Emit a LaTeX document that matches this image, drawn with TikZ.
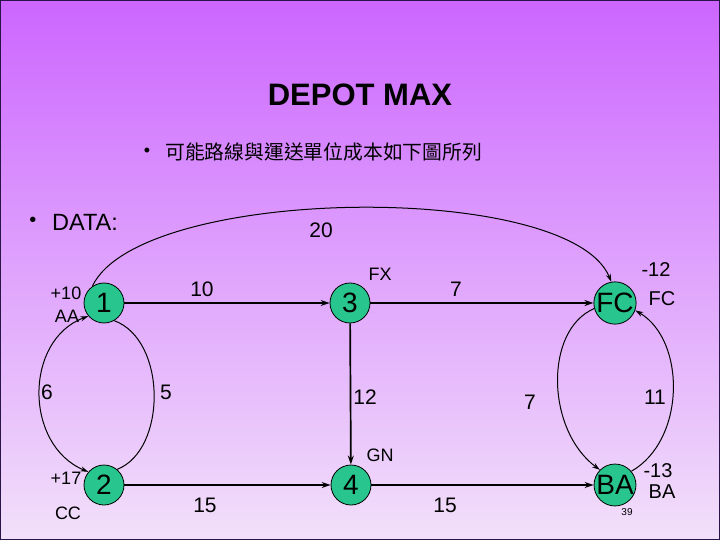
\documentclass[tikz,border=0pt]{standalone}
\usepackage{fontspec}
\setmainfont{Liberation Sans}
\newfontfamily\cjk{Noto Sans CJK TC}
\usetikzlibrary{arrows.meta}
\definecolor{bgtop}{RGB}{204,102,255}
\definecolor{bgmid}{RGB}{222,160,250}
\definecolor{bgbot}{RGB}{242,224,250}
\definecolor{nodegreen}{RGB}{40,198,142}
\definecolor{frame}{RGB}{40,20,70}
\begin{document}
\begin{tikzpicture}[x=1pt,y=-1pt,
  vert/.style={circle,draw=black,line width=0.8pt,fill=nodegreen,minimum size=40pt,inner sep=0pt,font=\fontsize{28}{28}\selectfont},
  vertw/.style={vert,font=\fontsize{28}{28}\selectfont},
  lbl/.style={font=\fontsize{21}{21}\selectfont,inner sep=0pt},
  sm/.style={font=\fontsize{18}{18}\selectfont,inner sep=0pt},
  md/.style={font=\fontsize{20}{20}\selectfont,inner sep=0pt},
  arr/.style={line width=1.7pt,-{Stealth[length=9pt,width=6pt]}},
  crv/.style={line width=1pt},
  crvtip/.style={crv,-{Stealth[length=8pt,width=5pt]}}]
% background
\shade[top color=bgtop,middle color=bgmid,bottom color=bgbot] (0,0) rectangle (720,540);
\useasboundingbox (0,0) rectangle (720,540);
\draw[frame,line width=1pt] (0.5,0.5) rectangle (719.5,539.5);
% titles
\node[font=\bfseries\fontsize{31}{31}\selectfont] (title) at (360,95) {DEPOT MAX};
\node[font=\fontsize{18}{18}\selectfont] (b1) at (147,152) {•};
\node[anchor=west,inner sep=0pt,font=\cjk\fontsize{19.8}{19.8}\selectfont] (sub) at (165,152) {可能路線與運送單位成本如下圖所列};
\node[font=\fontsize{20}{20}\selectfont] (b2) at (33,222) {•};
\node[anchor=west,inner sep=0pt,font=\fontsize{23.5}{23.5}\selectfont] (data) at (52,222) {DATA:};
% nodes
\node[vert] (n1) at (104,303) {1};
\node[vert] (n3) at (350,303) {3};
\node[vertw] (fc) at (615,303) {FC};
\node[vert] (n2) at (104,485) {2};
\node[vert] (n4) at (351,485) {4};
\node[vertw] (ba) at (615,485) {BA};
% straight arrows
\draw[arr] (n1) -- (n3);
\draw[arr] (n3) -- (fc);
\draw[arr] (n3) -- (n4);
\draw[arr] (n2) -- (n4);
\draw[arr] (n4) -- (ba);
% curves
\draw[crvtip] (n1.125) .. controls (140,185) and (570,180) .. (fc.100);
\draw[crv,{Stealth[length=8pt,width=5pt]}-{Stealth[length=8pt,width=5pt]}] (n2.140) .. controls (24,445) and (24,340) .. (n1.220);
\draw[crv] (n1.300) .. controls (167,340) and (167,450) .. (n2.50);
\draw[crvtip] (fc.195) .. controls (544,330) and (546,430) .. (ba.135);
\draw[crvtip] (ba.40) .. controls (686,440) and (686,340) .. (fc.340);
% edge labels
\node[lbl] (l20) at (321,230) {20};
\node[lbl] (l10) at (202,289) {10};
\node[lbl] (l7a) at (456,289) {7};
\node[lbl] (l12) at (365,397) {12};
\node[lbl] (l6) at (47,392) {6};
\node[lbl] (l5) at (166,392) {5};
\node[lbl] (l7b) at (530,402) {7};
\node[lbl] (l11) at (655,397) {11};
\node[lbl] (l15a) at (205,505) {15};
\node[lbl] (l15b) at (445,505) {15};
% side labels
\node[sm] (fx) at (380,274) {FX};
\node[sm] (gn) at (380,455) {GN};
\node[sm] (p10) at (66,293) {+10};
\node[sm] (aa) at (67,316) {AA};
\node[sm] (p17) at (66,478) {+17};
\node[sm] (cc) at (68,513) {CC};
\node[md] (m12) at (656,270) {-12};
\node[md] (fcl) at (662,299) {FC};
\node[md] (m13) at (658,471) {-13};
\node[md] (bal) at (662,492) {BA};
\node[font=\fontsize{10}{10}\selectfont,inner sep=0pt] (pg) at (627,512) {39};
\end{tikzpicture}
\end{document}
